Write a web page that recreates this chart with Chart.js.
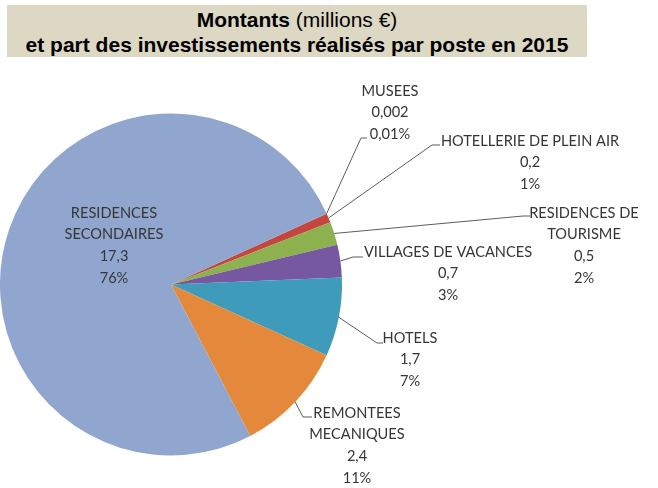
<!DOCTYPE html>
<html lang="fr">
<head>
    <meta charset="UTF-8">
    <title>Investissements 2015</title>
    <script src="https://cdn.jsdelivr.net/npm/chart.js@4.4.1/dist/chart.umd.min.js"></script>
    <style>
        body { margin: 0; background: #fff; }
        #wrap { position: relative; width: 658px; height: 488px; overflow: hidden; }
        #pie { position: absolute; left: 0; top: 0; }
        .titlebox {
            position: absolute; left: 7px; top: 5px; width: 580px; height: 50px;
            padding-top: 2px;
            background: #ddd8c3; text-align: center;
            font-family: "Liberation Sans", Arial, sans-serif; font-size: 21px; color: #000;
            line-height: 25px;
        }
        .titlebox b { font-weight: bold; }
    </style>
</head>
<body>
<div id="wrap">
    <canvas id="pie" width="658" height="488"></canvas>
    <div class="titlebox">
        <b>Montants</b> (millions €)<br>
        <b>et part des investissements réalisés par poste en 2015</b>
    </div>
</div>

<script>
    // data, clockwise from the start angle
    const categories = ['MUSEES', 'HOTELLERIE DE PLEIN AIR', 'RESIDENCES DE TOURISME', 'VILLAGES DE VACANCES',
        'HOTELS', 'REMONTEES MECANIQUES', 'RESIDENCES SECONDAIRES'];
    const amounts = [0.002, 0.2, 0.5, 0.7, 1.7, 2.4, 17.3];
    const amountLabels = ['0,002', '0,2', '0,5', '0,7', '1,7', '2,4', '17,3'];
    const shareLabels = ['0,01%', '1%', '2%', '3%', '7%', '11%', '76%'];
    const nameLines = [['MUSEES'], ['HOTELLERIE DE PLEIN AIR'], ['RESIDENCES DE', 'TOURISME'],
        ['VILLAGES DE VACANCES'], ['HOTELS'], ['REMONTEES', 'MECANIQUES'], ['RESIDENCES', 'SECONDAIRES']];
    const colors = ['#2f4f8a', '#c4463f', '#8db14e', '#7558a0', '#3f9bba', '#e4893b', '#90a6ce'];

    // label placement: text centre x, first line y, elbow of the leader line (null = inside)
    const labelSpots = [
        { x: 390, y: 91, elbow: [361, 138], end: 367 },
        { x: 530, y: 141, elbow: [432, 145], end: 440 },
        { x: 584, y: 213, elbow: [523, 216], end: 530 },
        { x: 448, y: 252, elbow: [353, 257], end: 363 },
        { x: 410, y: 338, elbow: [377, 343], end: 383 },
        { x: 357, y: 413, elbow: [303, 417], end: 312 },
        { x: 114, y: 213, elbow: null }
    ];

    const pieLabels = {
        id: 'pieLabels',
        afterDraw(chart) {
            const ctx = chart.ctx;
            const arcs = chart.getDatasetMeta(0).data;
            ctx.save();
            arcs.forEach(function (arc, i) {
                const spot = labelSpots[i];
                const p = arc.getProps(['x', 'y', 'startAngle', 'endAngle', 'outerRadius'], true);
                if (spot.elbow) {
                    const mid = (p.startAngle + p.endAngle) / 2;
                    ctx.beginPath();
                    ctx.strokeStyle = '#5c5c5c';
                    ctx.lineWidth = 1;
                    ctx.moveTo(p.x + Math.cos(mid) * p.outerRadius, p.y + Math.sin(mid) * p.outerRadius);
                    ctx.lineTo(spot.elbow[0], spot.elbow[1]);
                    ctx.lineTo(spot.end, spot.elbow[1]);
                    ctx.stroke();
                }
                const lines = nameLines[i].concat([amountLabels[i], shareLabels[i]]);
                ctx.fillStyle = '#363636';
                ctx.font = '14.6px Lato, "Open Sans", sans-serif';
                ctx.textAlign = 'center';
                ctx.textBaseline = 'middle';
                lines.forEach(function (t, k) {
                    ctx.fillText(t, spot.x, spot.y + k * 21.7);
                });
            });
            ctx.restore();
        }
    };

    new Chart(document.getElementById('pie'), {
        type: 'pie',
        data: {
            labels: categories,
            datasets: [{
                data: amounts,
                backgroundColor: colors,
                borderWidth: 0
            }]
        },
        options: {
            responsive: false,
            animation: false,
            rotation: 65.5,
            layout: { padding: { left: 0, top: 113, right: 316, bottom: 32 } },
            plugins: {
                legend: { display: false },
                tooltip: { enabled: false },
                title: { display: false }
            }
        },
        plugins: [pieLabels]
    });
</script>
</body>
</html>
